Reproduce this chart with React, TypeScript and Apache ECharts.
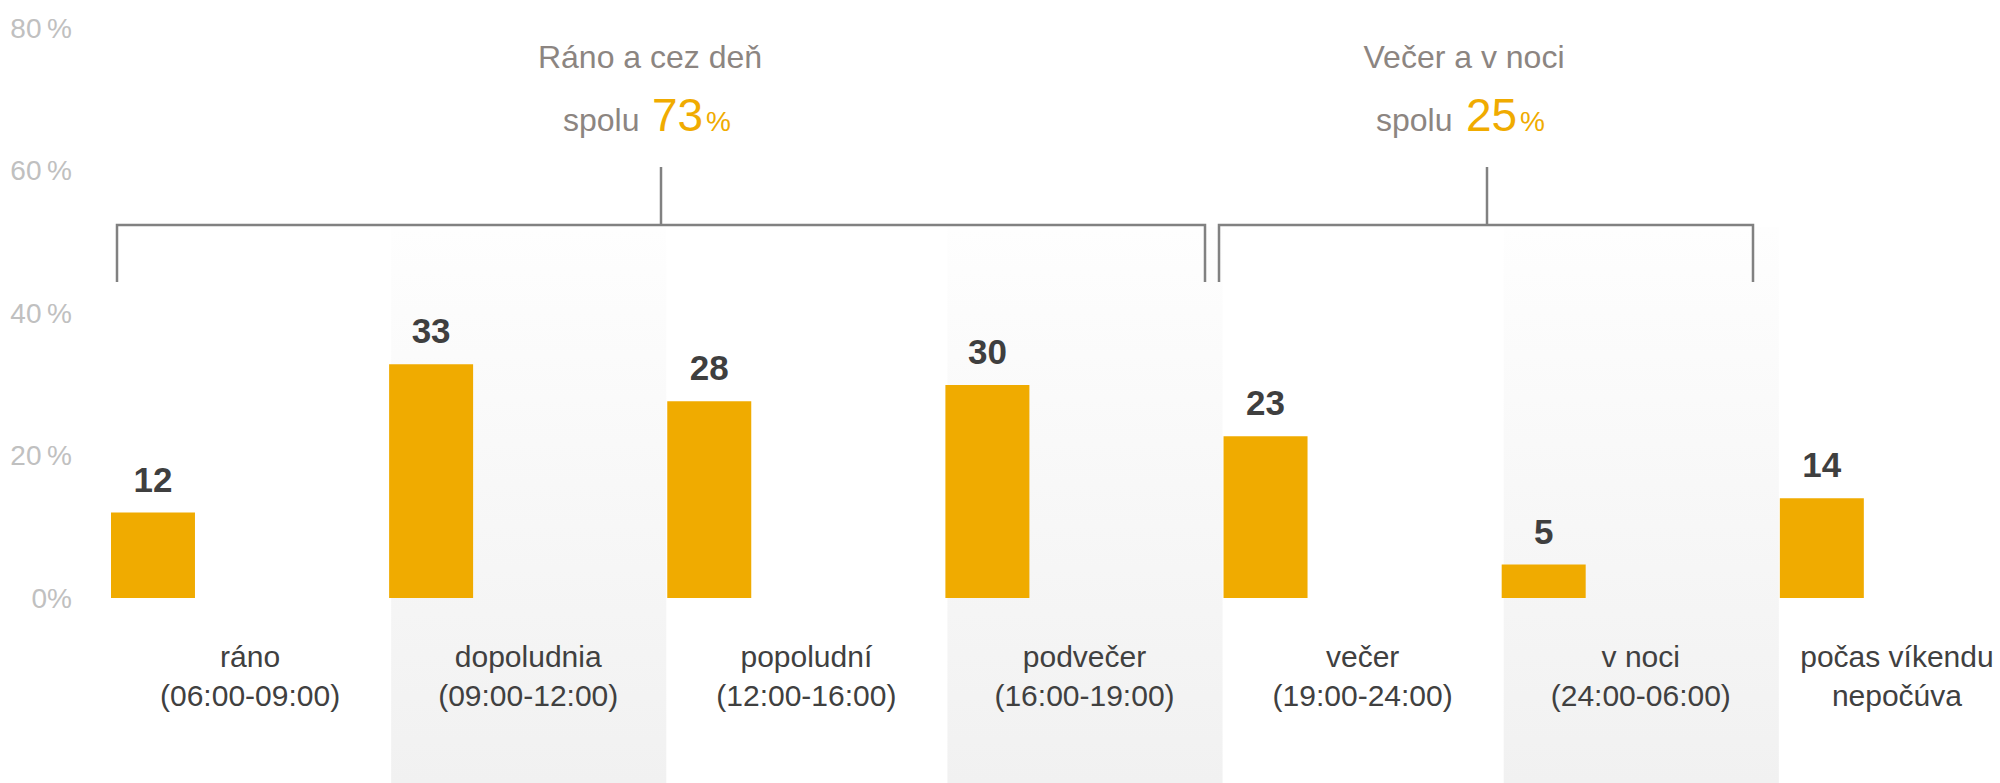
import React, { useEffect, useRef } from "react";
import * as echarts from "echarts";

const categories = ["ráno", "dopoludnia", "popoludní", "podvečer", "večer", "v noci", "počas víkendu"];
const subLabels = ["(06:00-09:00)", "(09:00-12:00)", "(12:00-16:00)", "(16:00-19:00)", "(19:00-24:00)", "(24:00-06:00)", "nepočúva"];
const values = [12.0, 32.8, 27.6, 29.9, 22.7, 4.7, 14.0];
const yTickValues = [0, 20, 40, 60, 80];
const groupTitles = ["Ráno a cez deň", "Večer a v noci"];
const groupTotals = [73, 25];
const shadedIndices = [1, 3, 5];

const FONT = "'Liberation Sans', Arial, Helvetica, sans-serif";
const ORANGE = "#F0AB00";
const TITLE_GRAY = "#8C8581";
const LINE_GRAY = "#818181";

export default function App() {
  const ref = useRef<HTMLDivElement>(null);

  useEffect(() => {
    if (!ref.current) return;
    const chart = echarts.init(ref.current, undefined, { renderer: "svg" });

    const axisData = categories.map((c, i) => {
      const item: any = { value: c + "\n" + subLabels[i] };
      if (i === categories.length - 1) {
        item.textStyle = { padding: [0, 44, 0, 0] };
      }
      return item;
    });

    chart.setOption({
      animation: false,
      backgroundColor: "#ffffff",
      grid: {
        left: 111,
        top: 28,
        width: 1947,
        height: 570,
        containLabel: false,
        outerBoundsMode: "none",
      },
      xAxis: {
        type: "category",
        data: axisData,
        axisLine: { show: false },
        axisTick: { show: false },
        splitLine: { show: false },
        axisLabel: {
          interval: 0,
          fontFamily: FONT,
          fontSize: 30,
          lineHeight: 39,
          color: "#404040",
          margin: 39,
        },
      },
      yAxis: {
        type: "value",
        min: yTickValues[0],
        max: yTickValues[yTickValues.length - 1],
        interval: yTickValues[1] - yTickValues[0],
        axisLine: { show: false },
        axisTick: { show: false },
        splitLine: { show: false },
        axisLabel: {
          fontFamily: FONT,
          fontSize: 28,
          color: "#C0C0C0",
          margin: 39,
          formatter: (v: number) => (v === 0 ? "0%" : v + "\u2009%"),
        },
      },
      series: [
        {
          type: "bar",
          name: "value",
          data: values,
          barWidth: 84,
          barGap: "0%",
          itemStyle: { color: ORANGE },
          label: {
            show: true,
            position: "top",
            distance: 16,
            fontFamily: FONT,
            fontSize: 35,
            fontWeight: "bold",
            color: "#3F3F3F",
            formatter: (p: any) => String(Math.round(p.value)),
          },
          z: 3,
        },
        {
          type: "bar",
          name: "spacer",
          data: categories.map(() => "-"),
          barWidth: 194.2,
          silent: true,
          itemStyle: { color: "transparent" },
        },
      ],
    });

    const c0 = chart.convertToPixel({ xAxisIndex: 0 }, 0) as number;
    const c1 = chart.convertToPixel({ xAxisIndex: 0 }, 1) as number;
    const bw = c1 - c0;

    const bands = shadedIndices.map((idx) => {
      const cx = chart.convertToPixel({ xAxisIndex: 0 }, idx) as number;
      return {
        type: "rect",
        z: -1,
        silent: true,
        shape: { x: cx - bw / 2 + 2, y: 227, width: bw - 3, height: 783 - 227 },
        style: {
          fill: new echarts.graphic.LinearGradient(0, 0, 0, 1, [
            { offset: 0, color: "#FEFEFE" },
            { offset: 1, color: "#F1F1F1" },
          ]),
        },
      };
    });

    const lineStyle = { stroke: LINE_GRAY, lineWidth: 2.5, fill: null };
    const brackets = [
      {
        type: "polyline",
        z: 10,
        shape: { points: [[117, 282], [117, 225], [1205, 225], [1205, 282]] },
        style: lineStyle,
      },
      { type: "line", z: 10, shape: { x1: 661, y1: 167, x2: 661, y2: 225 }, style: lineStyle },
      {
        type: "polyline",
        z: 10,
        shape: { points: [[1219, 282], [1219, 225], [1753, 225], [1753, 282]] },
        style: lineStyle,
      },
      { type: "line", z: 10, shape: { x1: 1487, y1: 167, x2: 1487, y2: 225 }, style: lineStyle },
    ];

    const titleCenters = [650, 1464];
    const spoluX = [[563, 652, 706], [1376, 1466, 1520]];
    const texts: any[] = [];
    groupTitles.forEach((t, i) => {
      texts.push({
        type: "text",
        z: 10,
        x: titleCenters[i],
        y: 68 - 0.3465 * 32,
        style: { text: t, fontFamily: FONT, fontSize: 32, fill: TITLE_GRAY, align: "center", verticalAlign: "middle" },
      });
      texts.push({
        type: "text",
        z: 10,
        x: spoluX[i][0],
        y: 131 - 0.3465 * 32,
        style: { text: "spolu", fontFamily: FONT, fontSize: 32, fill: TITLE_GRAY, align: "left", verticalAlign: "middle" },
      });
      texts.push({
        type: "text",
        z: 10,
        x: spoluX[i][1],
        y: 131 - 0.3465 * 46,
        style: { text: String(groupTotals[i]), fontFamily: FONT, fontSize: 46, fill: ORANGE, align: "left", verticalAlign: "middle" },
      });
      texts.push({
        type: "text",
        z: 10,
        x: spoluX[i][2],
        y: 131 - 0.3465 * 28,
        style: { text: "%", fontFamily: FONT, fontSize: 28, fill: ORANGE, align: "left", verticalAlign: "middle" },
      });
    });

    chart.setOption({ graphic: [...bands, ...brackets, ...texts] });

    return () => chart.dispose();
  }, []);

  return (
    <div
      ref={ref}
      style={{ position: "fixed", left: 0, top: 0, width: 2000, height: 783, background: "#ffffff" }}
    />
  );
}
